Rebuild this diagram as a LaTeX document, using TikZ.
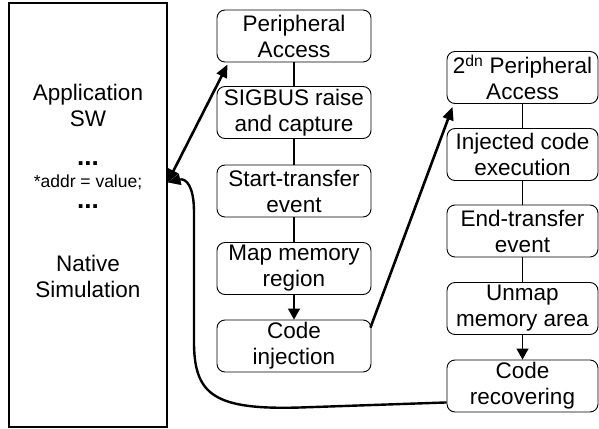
\documentclass[tikz,border=0pt]{standalone}
\usepackage{fontspec}
\setmainfont{Liberation Sans}
\usetikzlibrary{arrows.meta,calc}
\newcommand{\bigdots}{{\fontsize{26}{21}\selectfont\bfseries ...}}
\begin{document}
\begin{tikzpicture}[x=1pt,y=-1pt,
  stepbox/.style={draw, rounded corners=8pt, line width=0.9pt, minimum width=154pt, minimum height=52pt, inner sep=0pt, align=center, font=\fontsize{22.5}{26}\selectfont},
  link/.style={line width=1.3pt},
  flow/.style={line width=1.3pt, -{Triangle[length=11pt,width=12pt]}},
  jump/.style={line width=2.6pt, -{Triangle[length=13pt,width=11pt]}},
  bigtext/.style={align=center, font=\fontsize{22.5}{26}\selectfont}
]
\useasboundingbox (0,0) rectangle (599,428);
\node[draw, line width=1.1pt, minimum width=158pt, minimum height=424pt, inner sep=0pt] (sim) at (88,215) {};
\node[bigtext] (app) at (88,105) {Application\\SW};
\node[inner sep=0pt, align=center, font=\fontsize{17.5}{21}\selectfont] (addr) at (88,185) {\bigdots\\[1pt]*addr = value;\\\bigdots};
\node[bigtext] (nat) at (88,276) {Native\\Simulation};

\node[stepbox] (pa) at (294,36) {Peripheral\\Access};
\node[stepbox] (sig) at (294,112.5) {SIGBUS raise\\and capture};
\node[stepbox] (st) at (294,191) {Start-transfer\\event};
\node[stepbox] (map) at (294,268.5) {Map memory\\region};
\node[stepbox] (ci) at (294,346) {Code\\injection};

\node[stepbox, minimum width=151pt] (pa2) at (522.5,77.5) {2\textsuperscript{dn} Peripheral\\Access};
\node[stepbox, minimum width=151pt] (ice) at (522.5,154.5) {Injected code\\execution};
\node[stepbox, minimum width=151pt] (et) at (522.5,231) {End-transfer\\event};
\node[stepbox, minimum width=151pt] (um) at (522.5,308.5) {Unmap\\memory area};
\node[stepbox, minimum width=151pt] (cr) at (522.5,386) {Code\\recovering};

\draw[link] (pa) -- (sig);
\draw[link] (sig) -- (st);
\draw[link] (st) -- (map);
\draw[flow] (map) -- (ci);
\draw[link] (pa2) -- (ice);
\draw[link] (ice) -- (et);
\draw[link] (et) -- (um);
\draw[flow] (um) -- (cr);

\coordinate (tgt) at ($(sim.north east)+(0,180)$);
\coordinate (patip) at ($(pa.south west)+(11,2)$);
\coordinate (cistart) at ($(ci.north east)+(-1,8)$);
\coordinate (pa2tip) at ($(pa2.south west)+(6,3)$);
\coordinate (crstart) at ($(cr.south west)+(0,-10)$);

\draw[jump, {Triangle[length=13pt,width=11pt]}-{Triangle[length=13pt,width=11pt]}] (tgt) -- (patip);
\draw[jump] (cistart) -- (pa2tip);
\draw[line width=2.4pt, -{Triangle[length=13pt,width=11pt]}] (crstart) -- (300,407.5) .. controls (215,410) and (195,395) .. (194,345) -- (194,212) .. controls (194,186) and (186,178) .. (tgt);
\end{tikzpicture}
\end{document}
